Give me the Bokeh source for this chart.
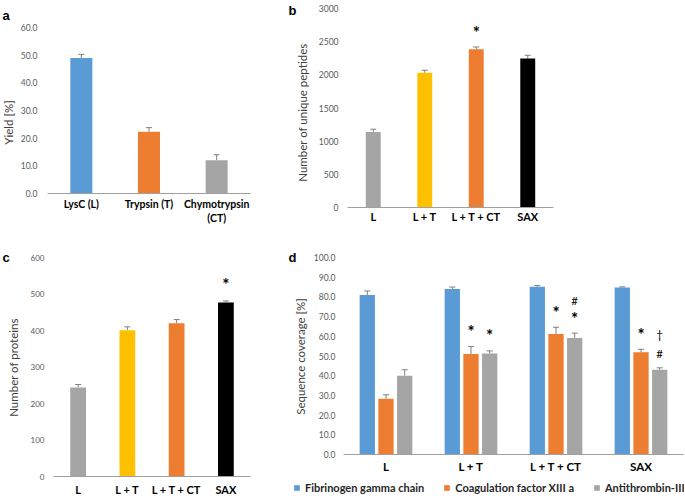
import math
from bokeh.plotting import figure
from bokeh.models import (ColumnDataSource, FixedTicker, NumeralTickFormatter, Whisker,
                          TeeHead, Legend, LegendItem, Range1d, Label)
from bokeh.layouts import row, column
from bokeh.core.properties import value
from bokeh.embed import file_html
from bokeh.resources import INLINE

FONT = "Lato"
LETTER_FONT = "Liberation Sans"
BLUE, ORANGE, GRAY, YELLOW, BLACK = "#5B9BD5", "#ED7D31", "#A5A5A5", "#FFC000", "#000000"
ERR = "#7F7F7F"

# ---------------- data ----------------
a_cats = ["LysC (L)", "Trypsin (T)", "Chymotrypsin\n(CT)"]
a_vals = [49.0, 22.3, 12.0]
a_errs = [1.3, 1.5, 2.0]
a_colors = [BLUE, ORANGE, GRAY]
a_ticks = [0, 10, 20, 30, 40, 50, 60]

b_cats = ["L", "L + T", "L + T + CT", "SAX"]
b_vals = [1140, 2030, 2385, 2245]
b_errs = [40, 40, 35, 50]
b_marks = ["", "", "*", ""]
b_colors = [GRAY, YELLOW, ORANGE, BLACK]
b_ticks = [0, 500, 1000, 1500, 2000, 2500, 3000]

c_cats = ["L", "L + T", "L + T + CT", "SAX"]
c_vals = [244, 401, 420, 477]
c_errs = [8, 9, 10, 4]
c_marks = ["", "", "", "*"]
c_colors = [GRAY, YELLOW, ORANGE, BLACK]
c_ticks = [0, 100, 200, 300, 400, 500, 600]

d_cats = ["L", "L + T", "L + T + CT", "SAX"]
d_series = ["Fibrinogen gamma chain", "Coagulation factor XIII a", "Antithrombin-III"]
d_fib = [81.0, 84.0, 85.1, 84.8]
d_fib_err = [2.0, 1.0, 0.7, 0.3]
d_fxiii = [28.3, 51.0, 61.2, 51.9]
d_fxiii_err = [2.0, 3.8, 3.4, 1.5]
d_at3 = [40.0, 51.3, 59.2, 43.0]
d_at3_err = [3.0, 1.3, 2.4, 1.0]
# significance symbols per bar, listed bottom-up
d_fib_marks = [[], [], [], []]
d_fxiii_marks = [[], ["*"], ["*"], ["*"]]
d_at3_marks = [[], ["*"], ["*", "#"], ["#", "\u2020"]]
d_ticks = [0, 10, 20, 30, 40, 50, 60, 70, 80, 90, 100]


def make_fig(cats, W, H, L, R, B, T, ticks, fmt, tick_size, tick_standoff,
             cat_size, cat_standoff, ylabel, ylabel_xy, letter, letter_xy):
    """Plot area spans pixels L..R horizontally, value 0 at pixel row B and the top
    tick at pixel row T; the frame covers the whole figure, axes sit at fixed locations."""
    n = len(cats)
    S = (R - L) / n
    top = ticks[-1]
    k = (B - T) / top
    p = figure(width=W, height=H, x_range=Range1d(-L / S, (W - L) / S),
               y_range=Range1d(-(H - B) / k, B / k), output_backend="svg",
               toolbar_location=None, min_border=0, sizing_mode="fixed")
    p.title.visible = False
    p.outline_line_color = None
    p.xgrid.grid_line_color = None
    p.ygrid.grid_line_color = None
    ya = p.yaxis[0]
    ya.fixed_location = 0
    ya.ticker = FixedTicker(ticks=ticks)
    ya.formatter = NumeralTickFormatter(format=fmt)
    ya.axis_line_color = None
    ya.major_tick_line_color = None
    ya.minor_tick_line_color = None
    ya.major_tick_out = 0
    ya.major_tick_in = 0
    ya.minor_tick_out = 0
    ya.major_label_standoff = tick_standoff
    ya.major_label_text_font = FONT
    ya.major_label_text_font_size = f"{tick_size}px"
    ya.major_label_text_color = "#595959"
    xa = p.xaxis[0]
    xa.fixed_location = 0
    xa.bounds = (0, n)
    xa.ticker = FixedTicker(ticks=[i + 0.5 for i in range(n)])
    xa.major_label_overrides = {i + 0.5: c for i, c in enumerate(cats)}
    xa.axis_line_color = "#A0A0A0"
    xa.axis_line_width = 1
    xa.major_tick_line_color = None
    xa.minor_tick_line_color = None
    xa.major_tick_out = 0
    xa.major_tick_in = 0
    xa.minor_tick_out = 0
    xa.major_label_standoff = cat_standoff
    xa.major_label_text_font = FONT
    xa.major_label_text_font_style = "bold"
    xa.major_label_text_font_size = f"{cat_size}px"
    xa.major_label_text_color = "#000000"
    # axis title and panel letter (screen units from the bottom-left of the frame)
    p.add_layout(Label(x=ylabel_xy[0], y=H - ylabel_xy[1], x_units="screen", y_units="screen",
                       text=ylabel, angle=math.pi / 2, text_align="center",
                       text_baseline="middle", text_font=FONT, text_font_size="11.5px",
                       text_color="#404040"))
    p.add_layout(Label(x=letter_xy[0], y=H - letter_xy[1], x_units="screen", y_units="screen",
                       text=letter, text_align="left", text_baseline="middle",
                       text_font=LETTER_FONT, text_font_size="13px", text_font_style="bold",
                       text_color="#000000"))
    return p


def simple_bars(p, cats, vals, errs, colors, width, marks=None, mark_px=14):
    xs = [i + 0.5 for i in range(len(cats))]
    src = ColumnDataSource(dict(x=xs, val=vals, up=[v + e for v, e in zip(vals, errs)],
                                color=colors, mark=marks or [""] * len(cats)))
    p.vbar(x="x", top="val", width=width, fill_color="color", line_color=None, source=src)
    p.add_layout(Whisker(base="x", lower="val", upper="up", source=src, line_color=ERR,
                         line_width=1, lower_head=None,
                         upper_head=TeeHead(size=6, line_color=ERR, line_width=1)))
    if marks:
        p.text(x="x", y="up", text="mark", source=src, text_font=value(FONT),
               text_font_style="bold", text_font_size="17px", text_align="center",
               text_baseline="middle", y_offset=-mark_px, text_color="#000000")


W1, W2 = 260, 424
H1, H2 = 240, 254

# ---------------- panel a ----------------
pa = make_fig(a_cats, W1, H1, 47, 250, 193, 27, a_ticks, "0.0", 8.5, 10, 10.5, 4,
              "Yield [%]", (8, 122), "a", (2, 15))
simple_bars(pa, a_cats, a_vals, a_errs, a_colors, 0.325)

# ---------------- panel b ----------------
pb = make_fig(b_cats, W2, H1, 87, 293, 207, 8, b_ticks, "0", 8.5, 9, 11, 2,
              "Number of unique peptides", (42, 112), "b", (28, 10))
simple_bars(pb, b_cats, b_vals, b_errs, b_colors, 0.29, b_marks, mark_px=14)

# ---------------- panel c ----------------
pc = make_fig(c_cats, W1, H2, 53, 250, 236, 17, c_ticks, "0", 8, 9, 11, 6,
              "Number of proteins", (13, 127), "c", (2, 17))
simple_bars(pc, c_cats, c_vals, c_errs, c_colors, 0.32, c_marks, mark_px=16)

# ---------------- panel d ----------------
pd_ = make_fig(d_cats, W2, H2, 83, 423, 214, 17, d_ticks, "0.0", 8.5, 8, 11.5, 5,
               "Sequence coverage [%]", (40, 116), "d", (28, 17))

bar_w, step = 0.18, 0.22
items = []
for k, (name, vals, errs, marks, col) in enumerate([
        (d_series[0], d_fib, d_fib_err, d_fib_marks, BLUE),
        (d_series[1], d_fxiii, d_fxiii_err, d_fxiii_marks, ORANGE),
        (d_series[2], d_at3, d_at3_err, d_at3_marks, GRAY)]):
    off = (k - 1) * step
    xs = [i + 0.5 + off for i in range(len(d_cats))]
    ups = [v + e for v, e in zip(vals, errs)]
    src = ColumnDataSource(dict(x=xs, val=vals, up=ups))
    r = pd_.vbar(x="x", top="val", width=bar_w, fill_color=col, line_color=None, source=src)
    pd_.add_layout(Whisker(base="x", lower="val", upper="up", source=src, line_color=ERR,
                           line_width=1, lower_head=None,
                           upper_head=TeeHead(size=6, line_color=ERR, line_width=1)))
    items.append(LegendItem(label=name, renderers=[r]))
    # significance symbols stacked above each bar
    for level in range(2):
        for is_star in (True, False):
            mx, mu, mt = [], [], []
            for x, u, m in zip(xs, ups, marks):
                if len(m) > level and (m[level] == "*") == is_star:
                    mx.append(x); mu.append(u); mt.append(m[level])
            if not mx:
                continue
            ssrc = ColumnDataSource(dict(x=mx, up=mu, mark=mt))
            if level == 0:
                yoff = -15 if is_star else -14
            else:
                yoff = -33
            pd_.text(x="x", y="up", text="mark", source=ssrc,
                     text_font=value(FONT), text_font_style="bold" if is_star else "normal",
                     text_font_size="17px" if is_star else "11.5px", text_align="center",
                     text_baseline="middle", y_offset=yoff, text_color="#000000")

legend = Legend(items=items, orientation="horizontal", location=(33, 0),
                glyph_width=7, glyph_height=7, label_standoff=5, spacing=19, padding=0,
                margin=0, label_height=12, label_text_font=FONT, label_text_font_style="bold",
                label_text_font_size="11px", label_text_color="#262626",
                background_fill_alpha=0, border_line_color=None)
pd_.add_layout(legend)

layout = column(row(pa, pb, sizing_mode="fixed"), row(pc, pd_, sizing_mode="fixed"),
                sizing_mode="fixed")
open("out.html", "w").write(file_html(layout, INLINE))
